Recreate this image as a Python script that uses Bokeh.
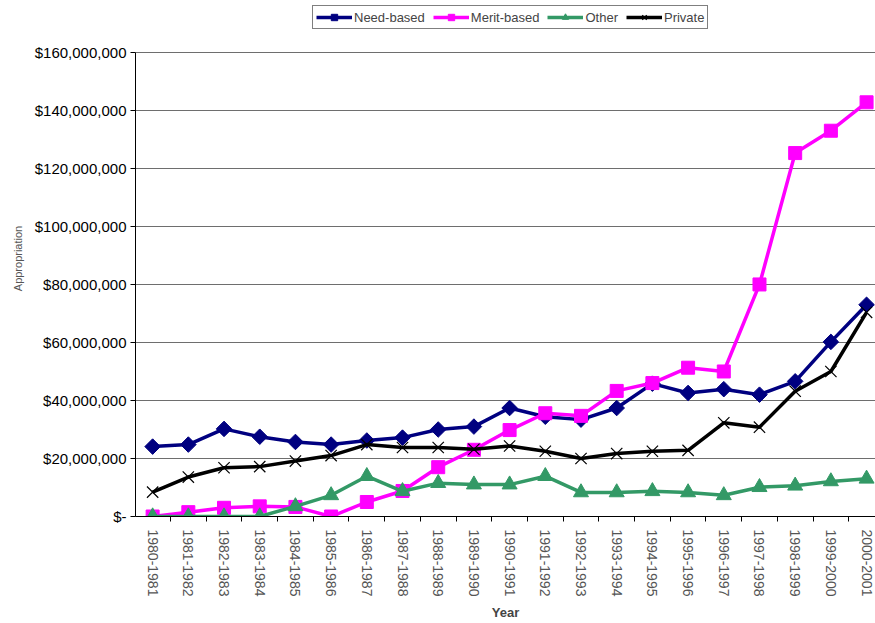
import math
from bokeh.plotting import figure
from bokeh.models import FixedTicker, Range1d, Legend, LegendItem
from bokeh.embed import file_html
from bokeh.resources import INLINE

years = ["1980-1981", "1981-1982", "1982-1983", "1983-1984", "1984-1985",
         "1985-1986", "1986-1987", "1987-1988", "1988-1989", "1989-1990",
         "1990-1991", "1991-1992", "1992-1993", "1993-1994", "1994-1995",
         "1995-1996", "1996-1997", "1997-1998", "1998-1999", "1999-2000",
         "2000-2001"]
need_based = [24100000, 24800000, 30200000, 27500000, 25700000, 24800000,
              26200000, 27200000, 30000000, 31000000, 37400000, 34400000,
              33400000, 37400000, 45800000, 42600000, 43900000, 42000000,
              46600000, 60200000, 73000000]
merit_based = [0, 1500000, 3000000, 3500000, 3300000, 0,
               5000000, 8800000, 17000000, 23000000, 29800000, 35600000,
               34700000, 43300000, 46000000, 51300000, 50000000, 80000000,
               125300000, 133000000, 142800000]
other = [0, 0, 0, 0, 3500000, 7300000,
         13900000, 8700000, 11500000, 11000000, 11000000, 13900000,
         8300000, 8300000, 8700000, 8300000, 7300000, 10100000,
         10600000, 12100000, 13000000]
private = [8400000, 13600000, 16800000, 17200000, 19100000, 21000000,
           24800000, 23800000, 23800000, 23200000, 24300000, 22500000,
           20000000, 21700000, 22500000, 22800000, 32300000, 30800000,
           43200000, 50000000, 70400000]
y_ticks = [0, 20000000, 40000000, 60000000, 80000000, 100000000,
           120000000, 140000000, 160000000]
y_tick_labels = ["$-", "$20,000,000", "$40,000,000", "$60,000,000",
                 "$80,000,000", "$100,000,000", "$120,000,000",
                 "$140,000,000", "$160,000,000"]

FONT = "Liberation Sans"
xs = list(range(len(years)))

# frame spans the full height above the axis; the top strip holds the legend
p = figure(width=875, height=623, output_backend="svg", toolbar_location=None,
           x_range=Range1d(-0.48, 20.25), y_range=Range1d(0, 177900000),
           min_border_left=135, min_border_top=0, min_border_bottom=106,
           min_border_right=0)
p.outline_line_color = None
p.background_fill_color = "white"
p.border_fill_color = "white"

# grid
p.xgrid.visible = False
p.ygrid.ticker = FixedTicker(ticks=y_ticks)
p.ygrid.grid_line_color = "#6e6e6e"
p.ygrid.grid_line_width = 1.2

# y axis
ya = p.yaxis[0]
ya.ticker = FixedTicker(ticks=y_ticks)
ya.bounds = (0, 160000000)
ya.major_label_overrides = {t: l for t, l in zip(y_ticks, y_tick_labels)}
ya.major_label_text_font = FONT
ya.major_label_text_font_size = "15px"
ya.major_label_text_color = "black"
ya.major_tick_out = 5
ya.major_tick_in = 0
ya.minor_tick_out = 0
ya.minor_tick_in = 0
ya.major_label_standoff = 4
ya.axis_line_color = "black"
ya.major_tick_line_color = "black"
ya.axis_label = "Appropriation"
ya.axis_label_text_font = FONT
ya.axis_label_text_font_size = "11px"
ya.axis_label_text_font_style = "normal"
ya.axis_label_text_color = "#555555"
ya.axis_label_standoff = 8

# x axis
xa = p.xaxis[0]
xa.ticker = FixedTicker(ticks=xs, minor_ticks=[i - 0.5 for i in range(len(years) + 1)])
xa.major_label_overrides = {i: y for i, y in zip(xs, years)}
xa.major_label_orientation = -math.pi / 2
xa.major_label_text_font = FONT
xa.major_label_text_font_size = "14px"
xa.major_label_text_color = "#555555"
xa.major_label_standoff = 8
xa.major_tick_out = 0
xa.major_tick_in = 0
xa.minor_tick_out = 5
xa.minor_tick_in = 0
xa.minor_tick_line_color = "black"
xa.axis_line_color = "black"
xa.axis_label = "Year"
xa.axis_label_text_font = FONT
xa.axis_label_text_font_size = "13px"
xa.axis_label_text_font_style = "bold"
xa.axis_label_standoff = 6

series = [
    ("Need-based", need_based, "#000080", "square", 11, math.pi / 4),
    ("Merit-based", merit_based, "#FF00FF", "square", 13, 0),
    ("Other", other, "#339966", "triangle", 15, 0),
    ("Private", private, "black", "x", 16, 0),
]
items = []
for name, vals, col, mk, sz, ang in series:
    ln = p.line(xs, vals, line_color=col, line_width=3.5)
    if mk == "x":
        sc = p.scatter(xs, vals, marker="x", size=sz, line_color=col, line_width=1.2)
    else:
        sc = p.scatter(xs, vals, marker=mk, size=sz, fill_color=col,
                       line_color=col, angle=ang)
    items.append(LegendItem(label=name, renderers=[ln, sc]))

legend = Legend(items=items, orientation="horizontal", location=(177, 487))
legend.label_text_font = FONT
legend.label_text_font_size = "13px"
legend.glyph_width = 36
legend.glyph_height = 16
legend.label_standoff = 2
legend.spacing = 8
legend.padding = 3
legend.margin = 0
legend.border_line_color = "black"
legend.border_line_width = 1
legend.background_fill_color = "white"
legend.background_fill_alpha = 1
legend.label_height = 16
p.add_layout(legend, "center")

open("out.html", "w").write(file_html(p, INLINE))
